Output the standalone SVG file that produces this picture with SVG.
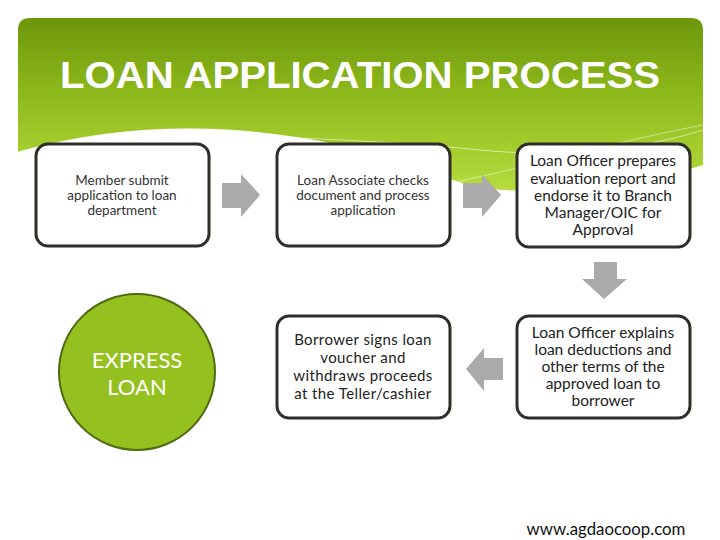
<svg xmlns="http://www.w3.org/2000/svg" width="720" height="540" viewBox="0 0 720 540">
<defs>
<linearGradient id="hdr" x1="0" y1="0" x2="0" y2="1">
<stop offset="0" stop-color="#6d970a"/>
<stop offset="0.5" stop-color="#92bd1e"/>
<stop offset="1" stop-color="#b6dc3e"/>
</linearGradient>
<style>
.box{fill:#fff;stroke:#2f2f2a;stroke-width:3}
.arr{fill:#aaaaaa}
.t{font-family:Lato,"Open Sans","Liberation Sans",sans-serif;fill:#222;text-anchor:middle}
.s{font-size:13.5px;fill:#333}
.m{font-size:15.5px}
.l{font-size:15px;letter-spacing:0.4px}
</style>
</defs>
<rect width="720" height="540" fill="#fff"/>
<g id="header">
<path d="M30,18 H691 Q703,18 703,30 V165 C660,178 600,186 540,190 C500,192 470,188 440,175 C380,150 300,135 230,130 C160,126 90,132 18,152 V30 Q18,18 30,18 Z" fill="url(#hdr)"/>
<path d="M18,152 C90,132 160,126 230,130 C300,135 380,150 440,175" fill="none" stroke="#ffffff" stroke-width="1" opacity="0.6"/>
<path d="M150,133 C260,136 380,140 480,150 C560,158 640,150 703,130" fill="none" stroke="#ffffff" stroke-width="0.8" opacity="0.7"/>
<path d="M440,185 C520,170 620,140 703,125" fill="none" stroke="#ffffff" stroke-width="0.8" opacity="0.6"/>
<text x="360" y="88" font-family="'Liberation Sans',Arial,sans-serif" font-size="36" font-weight="bold" fill="#fff" text-anchor="middle" textLength="600" lengthAdjust="spacingAndGlyphs">LOAN APPLICATION PROCESS</text>
</g>
<g id="connectors">
<path class="arr" d="M222,183 H241 V174 L260,195 L241,217 V208 H222 Z"/>
<path class="arr" d="M463,183 H482 V174 L501,195 L482,217 V208 H463 Z"/>
<path class="arr" d="M594,262 H617 V279 H627 L604,299 L582,279 H594 Z"/>
<path class="arr" d="M503,358 H484 V348 L466,369 L484,391 V380 H503 Z"/>
</g>
<g id="n1">
<rect class="box" x="36" y="144" width="173" height="102" rx="12"/>
<text class="t s" x="122" y="185">Member submit</text>
<text class="t s" x="122" y="200">application to loan</text>
<text class="t s" x="122" y="215">department</text>
</g>
<g id="n2">
<rect class="box" x="277" y="144" width="173" height="102" rx="12"/>
<text class="t s" x="363" y="185">Loan Associate checks</text>
<text class="t s" x="363" y="200">document and process</text>
<text class="t s" x="363" y="215">application</text>
</g>
<g id="n3">
<rect class="box" x="517" y="144" width="173" height="103" rx="12"/>
<text class="t m" x="603" y="166">Loan Officer prepares</text>
<text class="t m" x="603" y="184">evaluation report and</text>
<text class="t m" x="603" y="201">endorse it to Branch</text>
<text class="t m" x="603" y="218">Manager/OIC for</text>
<text class="t m" x="603" y="235">Approval</text>
</g>
<g id="n4">
<rect class="box" x="517" y="316" width="173" height="102" rx="12"/>
<text class="t m" x="603" y="338">Loan Officer explains</text>
<text class="t m" x="603" y="355">loan deductions and</text>
<text class="t m" x="603" y="372">other terms of the</text>
<text class="t m" x="603" y="389">approved loan to</text>
<text class="t m" x="603" y="406">borrower</text>
</g>
<g id="n5">
<rect class="box" x="277" y="316" width="173" height="102" rx="12"/>
<text class="t l" x="363" y="345">Borrower signs loan</text>
<text class="t l" x="363" y="363">voucher and</text>
<text class="t l" x="363" y="381">withdraws proceeds</text>
<text class="t l" x="363" y="399">at the Teller/cashier</text>
</g>
<g id="express">
<circle cx="137" cy="372" r="78" fill="#94c11f" stroke="#4f6a10" stroke-width="2"/>
<text class="t" x="137" y="368" font-size="22" style="fill:#fff">EXPRESS</text>
<text class="t" x="137" y="395" font-size="22" style="fill:#fff">LOAN</text>
</g>
<text class="t" x="606" y="535" font-size="16.8" style="fill:#111">www.agdaocoop.com</text>
</svg>
